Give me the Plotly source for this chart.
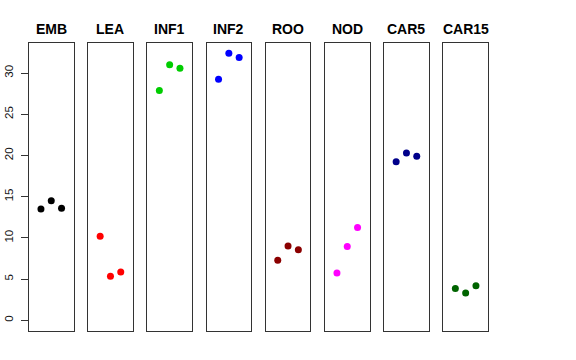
import plotly.graph_objects as go

groups = ["EMB", "LEA", "INF1", "INF2", "ROO", "NOD", "CAR5", "CAR15"]
colors = ["#000000", "#FF0000", "#00CD00", "#0000FF", "#8B0000", "#FF00FF", "#00008B", "#006400"]
reps = [1, 2, 3]
emb = [13.5, 14.5, 13.6]
lea = [10.2, 5.35, 5.85]
inf1 = [27.9, 31.0, 30.6]
inf2 = [29.25, 32.4, 31.9]
roo = [7.3, 9.0, 8.55]
nod = [5.75, 8.95, 11.25]
car5 = [19.25, 20.3, 19.9]
car15 = [3.85, 3.3, 4.2]
values = [emb, lea, inf1, inf2, roo, nod, car5, car15]
y_ticks = [0, 5, 10, 15, 20, 25, 30]

W, H = 576, 360
left0, pw, step = 29, 44.5, 59.2
top, bottom = 43, 331

fig = go.Figure()
layout = dict(
    width=W, height=H, margin=dict(l=0, r=0, t=0, b=0, pad=0, autoexpand=False),
    plot_bgcolor="white", paper_bgcolor="white", showlegend=False,
    font=dict(family="Liberation Sans, Arial, sans-serif", color="black"),
)
annotations = []
for i, (g, c, v) in enumerate(zip(groups, colors, values)):
    n = "" if i == 0 else str(i + 1)
    fig.add_trace(go.Scatter(
        x=reps, y=v, mode="markers", xaxis="x" + n, yaxis="y" + n,
        marker=dict(color=c, size=7, line=dict(width=0)),
    ))
    x0 = (left0 + i * step) / W
    x1 = (left0 + i * step + pw) / W
    layout["xaxis" + n] = dict(
        domain=[x0, x1], range=[-0.16, 4.16], showticklabels=False, ticks="",
        showgrid=False, zeroline=False, showline=True, mirror=True, automargin=False,
        linecolor="#333333", linewidth=1, anchor="y" + n,
    )
    yax = dict(
        domain=[1 - bottom / H, 1 - top / H], range=[-1.3, 33.65], automargin=False,
        showgrid=False, zeroline=False, showline=True, mirror=True,
        linecolor="#333333", linewidth=1, anchor="x" + n,
    )
    if i == 0:
        yax.update(tickvals=y_ticks, ticks="outside", ticklen=7, tickcolor="#333333",
                   tickangle=-90, tickfont=dict(size=11.5, color="#111111"),
                   ticklabelstandoff=3)
    else:
        yax.update(showticklabels=False, ticks="")
    layout["yaxis" + n] = yax
    annotations.append(dict(
        text="<b>" + g + "</b>", x=(x0 + x1) / 2, y=1 - 29 / H, xref="paper", yref="paper",
        showarrow=False, xanchor="center", yanchor="middle", font=dict(size=14, color="black"),
    ))
layout["annotations"] = annotations
fig.update_layout(**layout)
fig.write_html("out.html", config={"displayModeBar": False},
               post_script="document.body.style.margin='0';")
